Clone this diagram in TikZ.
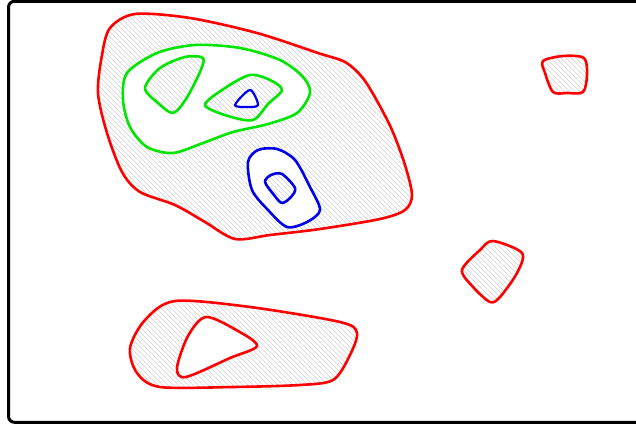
\documentclass[tikz,border=0pt]{standalone}
\usetikzlibrary{patterns}
\pgfdeclarepatternformonly{hatchnw}{\pgfqpoint{-1pt}{-1pt}}{\pgfqpoint{6pt}{6pt}}{\pgfqpoint{5pt}{5pt}}{%
  \pgfsetlinewidth{0.6pt}%
  \pgfpathmoveto{\pgfqpoint{-0.1pt}{5.1pt}}%
  \pgfpathlineto{\pgfqpoint{5.1pt}{-0.1pt}}%
  \pgfusepath{stroke}}
\tikzset{
  contour/.style={line width=2.6pt, line join=round},
  redc/.style={contour, draw={rgb,255:red,255;green,0;blue,0}},
  greenc/.style={contour, draw={rgb,255:red,0;green,230;blue,0}},
  bluec/.style={contour, draw={rgb,255:red,0;green,0;blue,235}},
  hatch/.style={pattern=hatchnw, pattern color=gray!35, even odd rule},
  cRbig/.style={insert path={plot[smooth cycle] coordinates {(110,28) (135,14) (190,18) (257,33) (318,53) (345,62) (362,77) (376,99) (392,130) (405,165) (412,195) (405,210) (380,219) (320,229) (270,235) (235,239) (205,222) (175,205) (140,192) (122,172) (107,133) (98,93) (102,55)}}},
  cGout/.style={insert path={plot[smooth cycle] coordinates {(127,73) (157,53) (195,45) (240,48) (280,60) (303,77) (310,93) (297,113) (268,124) (233,132) (203,143) (173,153) (147,147) (130,127) (123,100)}}},
  cGl/.style={insert path={plot[smooth cycle] coordinates {(145,88) (160,68) (185,57) (203,58) (200,72) (186,99) (173,113) (158,103)}}},
  cGr/.style={insert path={plot[smooth cycle] coordinates {(205,105) (225,88) (250,75) (270,80) (282,90) (268,104) (253,120) (228,116)}}},
  cBt/.style={insert path={plot[smooth cycle] coordinates {(235,105) (250,90) (258,105) (247,107)}}},
  cBout/.style={insert path={plot[smooth cycle] coordinates {(248,162) (258,150) (277,149) (295,160) (310,187) (320,210) (307,222) (287,227) (268,210) (252,190)}}},
  cBin/.style={insert path={plot[smooth cycle] coordinates {(265,182) (271,175) (282,174) (295,188) (291,197) (282,203) (274,195)}}},
  cRtr/.style={insert path={plot[smooth cycle] coordinates {(543,61) (563,56) (584,58) (587,75) (583,92) (567,93) (553,92) (545,73)}}},
  cRmid/.style={insert path={plot[smooth cycle] coordinates {(462,270) (480,250) (493,241) (522,253) (517,273) (500,297) (490,302) (473,287)}}},
  cRbot/.style={insert path={plot[smooth cycle] coordinates {(130,348) (145,320) (175,301) (250,307) (340,322) (357,333) (349,357) (333,380) (300,385) (233,387) (160,387) (137,373)}}},
  cRbi/.style={insert path={plot[smooth cycle] coordinates {(177,368) (188,336) (206,317) (238,331) (257,346) (230,358) (186,377)}}},
}
\begin{document}
\begin{tikzpicture}[x=1pt,y=-1pt]
\useasboundingbox (0,0) rectangle (636,427);
\fill[white] (0,0) rectangle (636,427);
% hatched regions (even-odd)
\path[hatch, cRbig, cGout, cGl, cGr, cBt, cBout, cBin];
\path[hatch, cRtr];
\path[hatch, cRmid];
\path[hatch, cRbot, cRbi];
% contours
\path[redc, cRbig];
\path[redc, cRtr];
\path[redc, cRmid];
\path[redc, cRbot];
\path[redc, cRbi];
\path[greenc, cGout];
\path[greenc, cGl];
\path[greenc, cGr];
\path[bluec, cBout];
\path[bluec, cBin];
\path[bluec, line width=2.2pt, cBt];
% frame
\draw[line width=3pt, rounded corners=6pt] (8.5,1.3) rectangle (650,422.3);
\end{tikzpicture}
\end{document}
